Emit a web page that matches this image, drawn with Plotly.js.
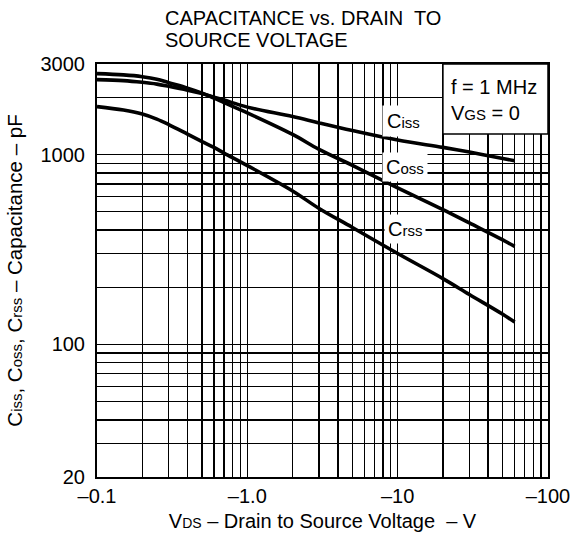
<!DOCTYPE html>
<html>
<head>
<meta charset="utf-8">
<script src="https://cdn.plot.ly/plotly-3.0.1.min.js"></script>
<style>
  html, body { margin: 0; padding: 0; background: #fff; }
  #chart { width: 571px; height: 542px; }
</style>
</head>
<body>
<div id="chart"></div>
<script>
// ---- data ----
const vds      = [0.1, 0.15, 0.2, 0.25, 0.3, 0.4, 0.5, 0.6, 0.7, 1, 2, 3, 5, 10, 20, 30, 50, 60];
const cossVals = [2670, 2628, 2573, 2497, 2392, 2239, 2107, 1984, 1878, 1658, 1277, 1065, 877, 668, 513, 436, 355, 328];
const cissVals = [2481, 2452, 2402, 2350, 2288, 2185, 2094, 2007, 1936, 1778, 1585, 1468, 1338, 1192, 1091, 1031, 953, 927];
const crssVals = [1789, 1715, 1634, 1537, 1439, 1282, 1171, 1090, 1018, 875, 643, 520, 413, 301, 222, 183, 144, 131];

const xGridVals = [0.1,0.2,0.3,0.4,0.5,0.6,0.7,0.8,0.9,1,2,3,4,5,6,7,8,9,10,20,30,40,50,60,70,80,90,100];
const xTickText = ['\u20130.1','','','','','','','','','\u20131.0','','','','','','','','','\u201310','','','','','','','','','\u2013100'];
const yGridVals = [20,30,40,50,60,70,80,90,100,200,300,400,500,600,700,800,900,1000,2000,3000];
const yTickText = ['20','','','','','','','','100','','','','','','','','','1000','','3000'];

const FONT = 'Liberation Sans, Arial, Helvetica, sans-serif';
const sm = (t, s) => '<span style="font-size:' + s + 'px">' + t + '</span>';
const NB = '\u00A0';

const lineStyle = { color: '#000', width: 3.6, shape: 'spline', smoothing: 1 };
const traces = [
  { x: vds, y: cossVals, mode: 'lines', line: lineStyle, name: 'Coss', hoverinfo: 'skip' },
  { x: vds, y: cissVals, mode: 'lines', line: lineStyle, name: 'Ciss', hoverinfo: 'skip' },
  { x: vds, y: crssVals, mode: 'lines', line: lineStyle, name: 'Crss', hoverinfo: 'skip' }
];

const axisCommon = {
  type: 'log',
  showgrid: true, gridcolor: '#000', gridwidth: 1.4,
  showline: true, linecolor: '#000', linewidth: 2, mirror: true,
  ticks: '', zeroline: false,
  tickfont: { family: FONT, size: 20, color: '#000' },
  tickmode: 'array'
};

const titleFont = { family: FONT, size: 20, color: '#000' };

const layout = {
  width: 571, height: 542,
  margin: { l: 97, r: 23, t: 64, b: 65 },
  paper_bgcolor: '#fff', plot_bgcolor: '#fff',
  showlegend: false,
  font: { family: FONT, color: '#000' },
  xaxis: Object.assign({}, axisCommon, {
    range: [-1, 2],
    tickvals: xGridVals, ticktext: xTickText,
    ticklabelstandoff: 0,
    title: { text: 'V' + sm('DS', 14) + ' \u2013 Drain to Source Voltage ' + NB + '\u2013 V', standoff: 8,
             font: titleFont }
  }),
  yaxis: Object.assign({}, axisCommon, {
    range: [Math.log10(20), Math.log10(3000)],
    tickvals: yGridVals, ticktext: yTickText,
    ticklabelstandoff: 6,
    title: { text: NB.repeat(7) + 'C' + sm('iss', 15) + ', C' + sm('oss', 15) + ', C' + sm('rss', 15) + ' \u2013 Capacitance \u2013 pF',
             standoff: 12, font: { family: FONT, size: 20.5, color: '#000' } }
  }),
  shapes: [
    { type: 'rect', xref: 'paper', yref: 'paper', x0: 0.767, x1: 1, y0: 0.8305, y1: 1,
      fillcolor: '#fff', line: { color: '#000', width: 1.5 }, layer: 'above' }
  ],
  annotations: [
    { xref: 'paper', yref: 'paper', x: 0.1463, y: 1 + (477 - 18 - 413) / 413, xanchor: 'left', yanchor: 'middle', align: 'left',
      showarrow: false, font: titleFont, text: 'CAPACITANCE vs. DRAIN' + NB + ' TO' },
    { xref: 'paper', yref: 'paper', x: 0.1463, y: 1 + (477 - 40 - 413) / 413, xanchor: 'left', yanchor: 'middle', align: 'left',
      showarrow: false, font: titleFont, text: 'SOURCE VOLTAGE' },
    { xref: 'paper', yref: 'paper', x: 0.7805, y: 0.913, xanchor: 'left', yanchor: 'middle', align: 'left',
      showarrow: false, font: titleFont,
      text: 'f = 1 MHz<br>V' + sm('GS', 15) + ' = 0' },
    { xref: 'paper', yref: 'paper', x: 0.6785, y: 0.862, xanchor: 'center', yanchor: 'middle',
      showarrow: false, bgcolor: '#fff', borderpad: 4,
      font: titleFont, text: 'C' + sm('iss', 15) },
    { xref: 'paper', yref: 'paper', x: 0.683, y: 0.751, xanchor: 'center', yanchor: 'middle',
      showarrow: false, bgcolor: '#fff', borderpad: 3,
      font: titleFont, text: 'C' + sm('oss', 15) },
    { xref: 'paper', yref: 'paper', x: 0.683, y: 0.600, xanchor: 'center', yanchor: 'middle',
      showarrow: false, bgcolor: '#fff', borderpad: 3,
      font: titleFont, text: 'C' + sm('rss', 15) }
  ]
};

Plotly.newPlot('chart', traces, layout, { staticPlot: true, displayModeBar: false });
</script>
</body>
</html>
